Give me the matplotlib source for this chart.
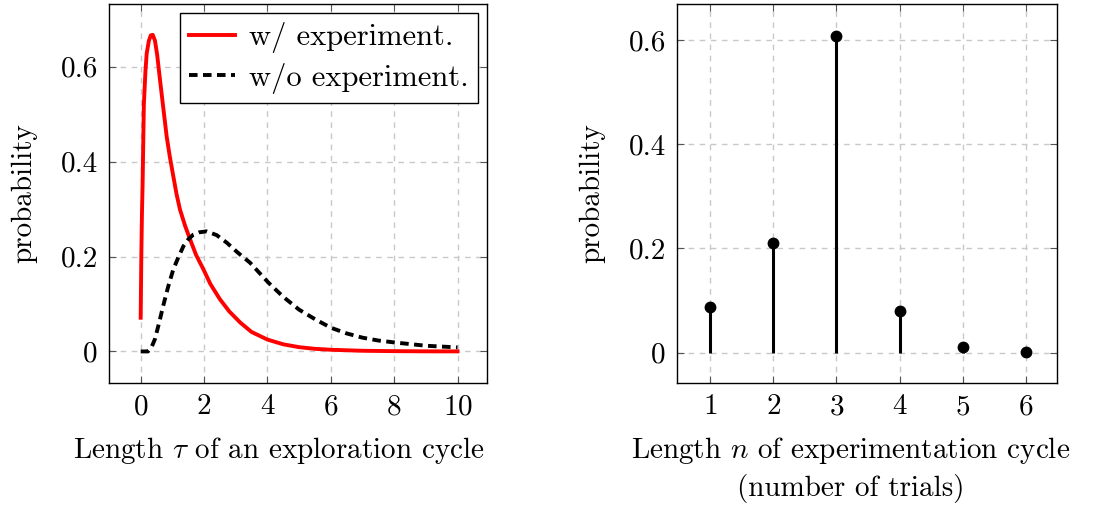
import matplotlib
matplotlib.use("Agg")
import matplotlib.pyplot as plt

# ----------------------------------------------------------------------
# Data
# ----------------------------------------------------------------------

tau_with = [0, 0.02, 0.04, 0.06, 0.1, 0.15, 0.19, 0.26, 0.32, 0.38, 0.45,
            0.52, 0.61, 0.71, 0.82, 0.92, 1.03, 1.13, 1.24, 1.4, 1.56, 1.75,
            1.98, 2.2, 2.5, 2.8, 3.14, 3.5, 4.0, 4.5, 5.0, 5.5, 6.0, 7.0, 8.0,
            9.0, 10.0]
prob_with = [0.071, 0.20, 0.29, 0.35, 0.52, 0.59, 0.628, 0.655, 0.666, 0.667,
             0.655, 0.625, 0.572, 0.515, 0.453, 0.41, 0.369, 0.332, 0.299,
             0.265, 0.236, 0.203, 0.173, 0.142, 0.11, 0.084, 0.061, 0.041,
             0.025, 0.015, 0.009, 0.0055, 0.0035, 0.0014, 0.0006, 0.0002,
             0.0001]

tau_without = [0, 0.23, 0.35, 0.45, 0.58, 0.71, 0.87, 1.03, 1.2, 1.35, 1.5,
               1.66, 1.85, 2.08, 2.4, 2.72, 3.05, 3.45, 4.03, 4.5, 5.0, 5.5,
               6.0, 6.5, 7.0, 7.5, 8.0, 9.0, 10.0]
prob_without = [0, 0, 0.01, 0.026, 0.06, 0.096, 0.137, 0.173, 0.2, 0.222,
                0.236, 0.246, 0.251, 0.253, 0.245, 0.229, 0.209, 0.187, 0.145,
                0.115, 0.088, 0.068, 0.050, 0.038, 0.029, 0.023, 0.019, 0.012,
                0.0085]

trials = [1, 2, 3, 4, 5, 6]
trial_prob = [0.088, 0.21, 0.6085, 0.080, 0.012, 0.002]

legend_labels = ["w/ experiment.", "w/o experiment."]
prob_ticks = [0, 0.2, 0.4, 0.6]
prob_ticklabels = ["0", "0.2", "0.4", "0.6"]

# ----------------------------------------------------------------------
# Style
# ----------------------------------------------------------------------

plt.rcParams["font.family"] = "cmr10"
plt.rcParams["mathtext.fontset"] = "cm"
plt.rcParams["axes.formatter.use_mathtext"] = True
plt.rcParams["font.size"] = 21

GRID_COLOR = "#c8c8c8"


def style_axes(ax):
    ax.grid(True, color=GRID_COLOR, linestyle=(0, (4, 4)), linewidth=1.0)
    ax.set_axisbelow(True)
    ax.tick_params(direction="in", top=True, right=True, length=5,
                   width=0.8, color="#555555", pad=8)
    for s in ax.spines.values():
        s.set_linewidth(1.0)


fig = plt.figure(figsize=(11.09, 5.08), dpi=100)
W, H = 1109, 508

ax1 = fig.add_axes([109 / W, (H - 383) / H, 378 / W, 379 / H])
ax2 = fig.add_axes([677 / W, (H - 383) / H, 380 / W, 379 / H])

# left: continuous distributions
ax1.plot(tau_with, prob_with, color="red", linewidth=2.8,
         label=legend_labels[0], solid_joinstyle="round")
ax1.plot(tau_without, prob_without, color="black", linewidth=2.8,
         dashes=(2.2, 1.4), label=legend_labels[1])
ax1.set_xlim(-1, 10.93)
ax1.set_ylim(-0.0665, 0.732)
ax1.set_xticks([0, 2, 4, 6, 8, 10])
ax1.set_yticks(prob_ticks)
ax1.set_yticklabels(prob_ticklabels)
ax1.set_xlabel(r"Length $\tau$ of an exploration cycle")
ax1.set_ylabel("probability")
ax1.xaxis.set_label_coords(0.45, -0.136)
ax1.yaxis.set_label_coords(-0.19, 0.5)
style_axes(ax1)
leg = ax1.legend(loc="upper right", fancybox=False, edgecolor="black",
                 framealpha=1, borderaxespad=0.3, handlelength=1.5,
                 borderpad=0.3, labelspacing=0.3, handletextpad=0.45,
                 fontsize=22)
leg.get_frame().set_linewidth(1.0)

# right: discrete distribution
ax2.vlines(trials, 0, trial_prob, color="black", linewidth=2.2)
ax2.plot(trials, trial_prob, "o", color="black", markersize=7.5)
ax2.set_xlim(0.48, 6.49)
ax2.set_ylim(-0.058, 0.669)
ax2.set_xticks(trials)
ax2.set_yticks(prob_ticks)
ax2.set_yticklabels(prob_ticklabels)
ax2.set_xlabel("Length $n$ of experimentation cycle\n(number of trials)",
               linespacing=1.4)
ax2.set_ylabel("probability")
ax2.xaxis.set_label_coords(0.458, -0.136)
ax2.yaxis.set_label_coords(-0.19, 0.5)
style_axes(ax2)

fig.savefig("out.png", dpi=100)
